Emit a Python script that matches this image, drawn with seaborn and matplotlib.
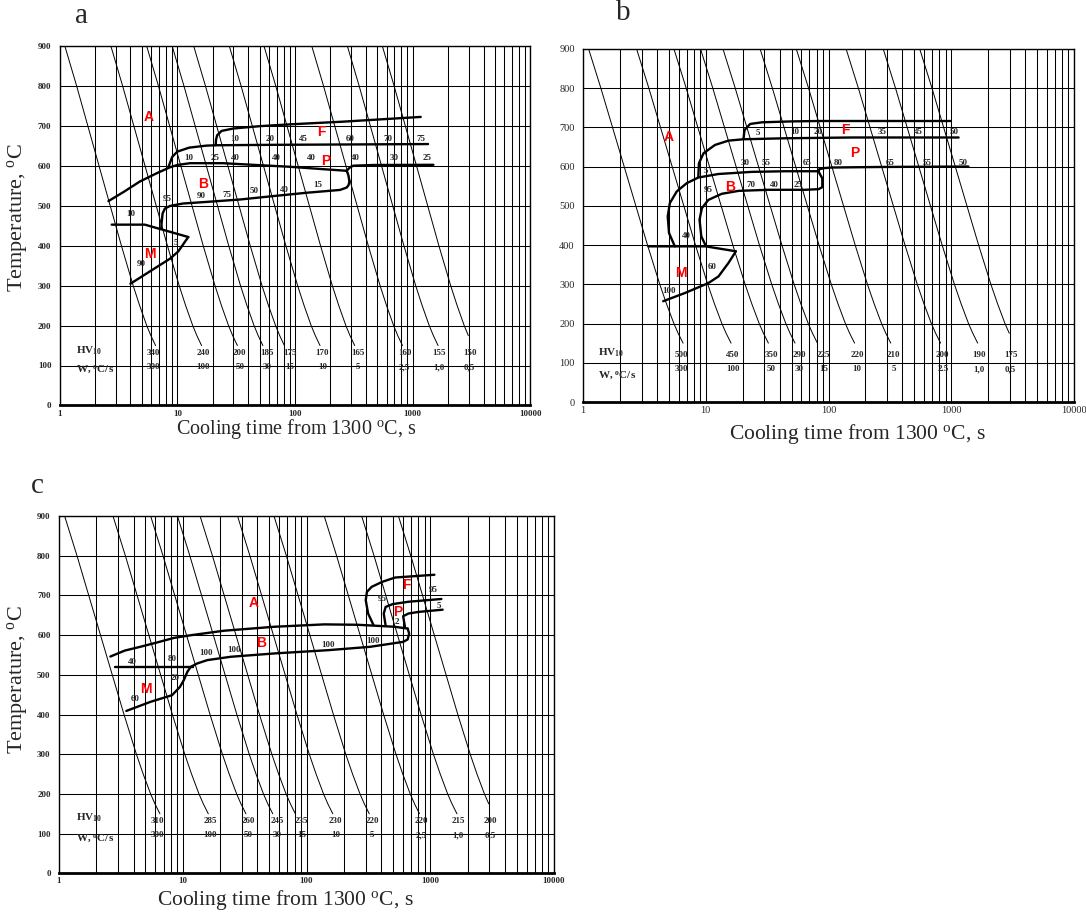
import numpy as np
import matplotlib
matplotlib.use("Agg")
import matplotlib.pyplot as plt
import seaborn as sns
from matplotlib.ticker import LogLocator, NullFormatter

sns.set_style("white")
plt.rcParams['font.family'] = ['Liberation Serif', 'DejaVu Serif']
plt.rcParams['mathtext.fontset'] = 'custom'
plt.rcParams['mathtext.rm'] = 'Liberation Serif'
plt.rcParams['mathtext.bf'] = 'Liberation Serif:bold'
plt.rcParams['mathtext.it'] = 'Liberation Serif:italic'

# --- cooling curves (same set in all three diagrams) ---
cool_start_t = [1.11, 2.73, 5.5, 9.06, 13.8, 27.7, 54.6, 139, 279, 553]   # s, at 900 C
cool_end_T = [150, 150, 150, 150, 150, 150, 150, 150, 150, 175]
shape_T = [900, 800, 700, 600, 500, 400, 300, 250, 200, 175, 150]
shape_dlog = [0, 0.10, 0.195, 0.29, 0.385, 0.48, 0.58, 0.635, 0.695, 0.73, 0.77]
label_t = [6.3, 16.7, 34, 58, 91, 171, 340, 853, 1680, 3050]

# --- diagram a ---
a_fstart_t = [21.2, 21.3, 21.8, 23.8, 30, 51, 99, 252, 1170]
a_fstart_T = [652, 665, 677, 688, 694, 700, 705, 711, 723]
a_ffin_t = [8.47, 9.06, 10, 12.6, 17.6, 21.2, 60, 300, 1350]
a_ffin_T = [600, 623, 636, 646, 651, 652, 653, 654, 655]
a_bstart_t = [2.6, 3.5, 4.8, 6.7, 8.7, 10, 12.8, 24.5, 47, 91, 174, 275]
a_bstart_T = [512, 535, 561, 582, 597, 602.5, 607, 607, 602.5, 598, 592, 588]
a_pline_t = [275, 283, 293, 313, 463, 1500]
a_pline_T = [588, 592, 596.6, 600.8, 602.5, 603]
a_bfin_t = [275, 284, 290, 285, 275, 241, 126, 65.5, 34, 17.7, 11.2, 8.7, 7.85, 7.5, 7.35, 7.3]
a_bfin_T = [588, 577, 561, 552, 546, 540, 533, 524.6, 516, 510, 506, 500, 493.5, 481, 456, 443]
a_ms_t = [2.77, 5.3, 12.4]
a_ms_T = [453, 453, 422]
a_mf_t = [12.4, 11.6, 11.0, 10.2, 8.7, 4.0]
a_mf_T = [422, 410, 400, 386, 368, 305]
a_red = [('A', 5.68, 722), ('F', 166, 684), ('P', 181, 612), ('B', 16.5, 554), ('M', 5.8, 380)]
a_num = [('10', 31, 668), ('20', 61, 668), ('45', 117, 668), ('60', 294, 668), ('70', 611, 668),
         ('75', 1180, 668), ('10', 12.4, 620), ('25', 21, 620), ('40', 31, 620), ('40', 70, 620),
         ('40', 139, 620), ('40', 325, 620), ('30', 698, 620), ('25', 1313, 620),
         ('95', 8.2, 517), ('90', 16, 524), ('75', 26.6, 527), ('50', 45, 537), ('40', 81, 539),
         ('15', 155, 552), ('10', 4.0, 480), ('5', 9.8, 408), ('90', 4.9, 355)]
a_hv = ['340', '240', '200', '185', '175', '170', '165', '160', '155', '150']
a_w = ['300', '100', '50', '30', '15', '10', '5', '2,5', '1,0', '0,5']

# --- diagram b ---
b_fstart_t = [20.3, 20.5, 20.7, 23.0, 28.7, 50, 82.8, 982]
b_fstart_T = [669.5, 682, 693, 708.5, 712.7, 715, 716, 716]
b_ffin_t = [8.7, 8.8, 9.6, 11.9, 15.3, 20.3, 44.4, 155, 1148]
b_ffin_T = [574.6, 608.5, 634, 655, 666, 669.5, 672, 674, 674]
b_bstart_t = [5.6, 5.02, 4.9, 5.1, 5.8, 7.0, 8.7, 12.7, 23.7, 44.4, 82.8]
b_bstart_T = [396.6, 430.5, 473, 506.8, 536.4, 557.6, 572, 581, 586.4, 588, 588]
b_pline_t = [82.8, 84, 91, 106, 289, 1380]
b_pline_T = [588, 593, 595.8, 597.5, 599, 600]
b_bfin_t = [82.8, 85, 89, 89, 83, 64.5, 32.4, 18.5, 13.5, 10.5, 9.3, 8.9, 9.2, 10]
b_bfin_T = [588, 581, 570, 547.5, 542.4, 540.7, 540.7, 538, 530.5, 515, 494, 464.4, 422, 398.3]
b_ms_t = [3.41, 10, 17.6]
b_ms_T = [396.6, 396.6, 384]
b_mf_t = [17.6, 15.3, 12.7, 10.5, 6.8, 4.5]
b_mf_T = [384, 354.2, 320, 303, 278, 256.8]
b_red = [('A', 5.0, 676), ('F', 137, 693), ('P', 165, 634), ('B', 15.8, 547), ('M', 6.3, 329)]
b_num = [('5', 26.5, 685), ('10', 53.5, 687), ('20', 83, 687), ('35', 272, 687), ('45', 542, 687),
         ('50', 1047, 687), ('30', 21, 610), ('55', 31, 610), ('65', 66.5, 610), ('80', 120, 610),
         ('65', 317, 610), ('55', 641, 610), ('50', 1260, 610), ('5', 10, 589), ('95', 10.4, 541),
         ('70', 23.4, 553), ('40', 36, 553), ('25', 57, 553), ('40', 6.9, 422), ('60', 11.2, 343),
         ('100', 5.0, 284)]
b_hv = ['500', '450', '350', '290', '225', '220', '210', '200', '190', '175']
b_w = ['300', '100', '50', '30', '15', '10', '5', '2.5', '1,0', '0,5']

# --- diagram c ---
c_bstart_t = [2.6, 3.4, 4.6, 6.3, 8.5, 11.8, 21.5, 55, 139, 260, 513, 657]
c_bstart_T = [546, 561, 571, 582, 593, 600, 611, 621, 627, 626, 621, 616.5]
c_bfin_t = [657, 675, 657, 604, 325, 149, 55, 24.4, 15.8, 13.1, 11.6, 10.9, 10.2, 9.5, 8.2, 5.5, 3.5]
c_bfin_T = [616.5, 604, 589, 583, 570.4, 562, 553.8, 545.4, 537, 528.6, 520, 507.6, 486.6, 469.7,
            448.7, 432, 409]
c_ms_t = [2.85, 12.0]
c_ms_T = [520, 520]
c_fstart_t = [347, 315, 301, 308, 336, 408, 520, 1080]
c_fstart_T = [626, 654, 688, 709, 721.5, 734, 745, 752]
c_pstart_t = [436, 421, 436, 496, 666, 1230]
c_pstart_T = [624, 654, 671, 678, 684, 691]
c_pfin_t = [624, 604, 666, 809, 1260]
c_pfin_T = [621, 647.6, 654.3, 658.5, 664]
c_red = [('A', 37.3, 682), ('B', 42.7, 581), ('M', 5.0, 465), ('F', 644, 726), ('P', 547, 657)]
c_num = [('95', 408, 690), ('95', 1052, 713), ('5', 1183, 673), ('2', 537, 632), ('100', 347, 585),
         ('100', 149, 576), ('100', 25.9, 562), ('100', 15.4, 554), ('80', 8.2, 539), ('40', 3.9, 533),
         ('20', 8.75, 492), ('60', 4.1, 439)]
c_hv = ['310', '285', '260', '245', '235', '230', '220', '220', '215', '200']
c_w = ['300', '100', '50', '30', '15', '10', '5', '2,5', '1,0', '0,5']

W, H = 1086, 914


def px(x, y):
    return x / W, 1 - y / H


def draw_panel(ax, lines, red, num, hv, w, rows, tick_bold, tick_size):
    for t0, te in zip(cool_start_t, cool_end_T):
        T = np.array(shape_T)
        keep = T >= te
        t = t0 * 10 ** np.array(shape_dlog)[keep]
        sns.lineplot(x=t, y=T[keep], sort=False, estimator=None, color='black',
                     linewidth=0.7, ax=ax)
    for t, T in lines:
        sns.lineplot(x=t, y=T, sort=False, estimator=None, color='black',
                     linewidth=1.7, ax=ax)

    for s, t, T in red:
        ax.text(t, T, s, color='red', fontsize=10, fontweight='bold',
                family=['Liberation Sans', 'DejaVu Sans'], ha='center', va='center')
    for s, t, T in num:
        ax.text(t, T, s, fontsize=6.5, fontweight='bold', ha='center', va='center')

    hv_T, w_T, lab_t, hv_lab_T, w_lab_T = rows
    for t, s1, s2 in zip(label_t, hv, w):
        ax.text(t, hv_T, s1, fontsize=6.5, fontweight='bold', ha='center', va='center')
        ax.text(t, w_T, s2, fontsize=6.5, fontweight='bold', ha='center', va='center')
    ax.text(lab_t, hv_lab_T, r'HV$_{\mathbf{10}}$', fontsize=8, fontweight='bold',
            ha='left', va='center')
    ax.text(lab_t, w_lab_T, r'W, $^{\mathbf{o}}$C/s', fontsize=8, fontweight='bold',
            ha='left', va='center')

    ax.set_xscale('log')
    ax.set_xlim(1, 10000)
    ax.set_ylim(0, 900)
    ax.set_xticks([1, 10, 100, 1000, 10000])
    ax.set_xticklabels(['1', '10', '100', '1000', '10000'])
    ax.xaxis.set_minor_locator(LogLocator(base=10, subs=np.arange(2, 10)))
    ax.xaxis.set_minor_formatter(NullFormatter())
    ax.set_yticks(range(0, 1000, 100))
    ax.set_axisbelow(True)
    ax.grid(True, which='both', axis='x', color='black', linewidth=0.75)
    ax.grid(True, which='major', axis='y', color='black', linewidth=0.75)
    ax.tick_params(which='both', length=0, labelsize=tick_size)
    ax.tick_params(axis='x', pad=3)
    ax.tick_params(axis='y', pad=6)
    for lbl in ax.get_xticklabels() + ax.get_yticklabels():
        lbl.set_fontweight('bold' if tick_bold else 'normal')
    ax.set_xlabel('')
    ax.set_ylabel('')
    for side in ['top', 'right', 'left']:
        ax.spines[side].set_linewidth(1.0)
        ax.spines[side].set_color('black')
    ax.spines['bottom'].set_linewidth(2.0)
    ax.spines['bottom'].set_color('black')


fig = plt.figure(figsize=(W / 100, H / 100), dpi=100)
ax_a = fig.add_axes([59.6 / W, 1 - 405.4 / H, 470.8 / W, 359.1 / H])
ax_b = fig.add_axes([583 / W, 1 - 402 / H, 491 / W, 353.2 / H])
ax_c = fig.add_axes([59 / W, 1 - 873.3 / H, 495 / W, 357.3 / H])

draw_panel(ax_a,
           [(a_fstart_t, a_fstart_T), (a_ffin_t, a_ffin_T), (a_bstart_t, a_bstart_T),
            (a_pline_t, a_pline_T), (a_bfin_t, a_bfin_T), (a_ms_t, a_ms_T), (a_mf_t, a_mf_T)],
           a_red, a_num, a_hv, a_w, (131, 95, 1.39, 137, 88), True, 6.5)
draw_panel(ax_b,
           [(b_fstart_t, b_fstart_T), (b_ffin_t, b_ffin_T), (b_bstart_t, b_bstart_T),
            (b_pline_t, b_pline_T), (b_bfin_t, b_bfin_T), (b_ms_t, b_ms_T), (b_mf_t, b_mf_T)],
           b_red, b_num, b_hv, b_w, (119, 83, 1.32, 125, 68), False, 7.5)
draw_panel(ax_c,
           [(c_bstart_t, c_bstart_T), (c_bfin_t, c_bfin_T), (c_ms_t, c_ms_T),
            (c_fstart_t, c_fstart_T), (c_pstart_t, c_pstart_T), (c_pfin_t, c_pfin_T)],
           c_red, c_num, c_hv, c_w, (132, 96, 1.37, 140, 88), True, 6.5)

# panel letters and axis titles
for s, x, y in [('a', 82, 16), ('b', 623, 13), ('c', 37, 486)]:
    fig.text(*px(x, y), s, fontsize=21, ha='center', va='center')

xlab = r'Cooling time from 1300 $^{\mathrm{o}}$C, s'
ylab = r'Temperature, $^{\mathrm{o}}$C'
fig.text(*px(296, 429), xlab, fontsize=14.5, ha='center', va='center')
fig.text(*px(857, 434), xlab, fontsize=15.5, ha='center', va='center')
fig.text(*px(285, 900), xlab, fontsize=15.5, ha='center', va='center')
fig.text(*px(17, 218), ylab, fontsize=16, ha='center', va='center', rotation=90)
fig.text(*px(17, 680), ylab, fontsize=16, ha='center', va='center', rotation=90)

fig.savefig('out.png', dpi=100)
